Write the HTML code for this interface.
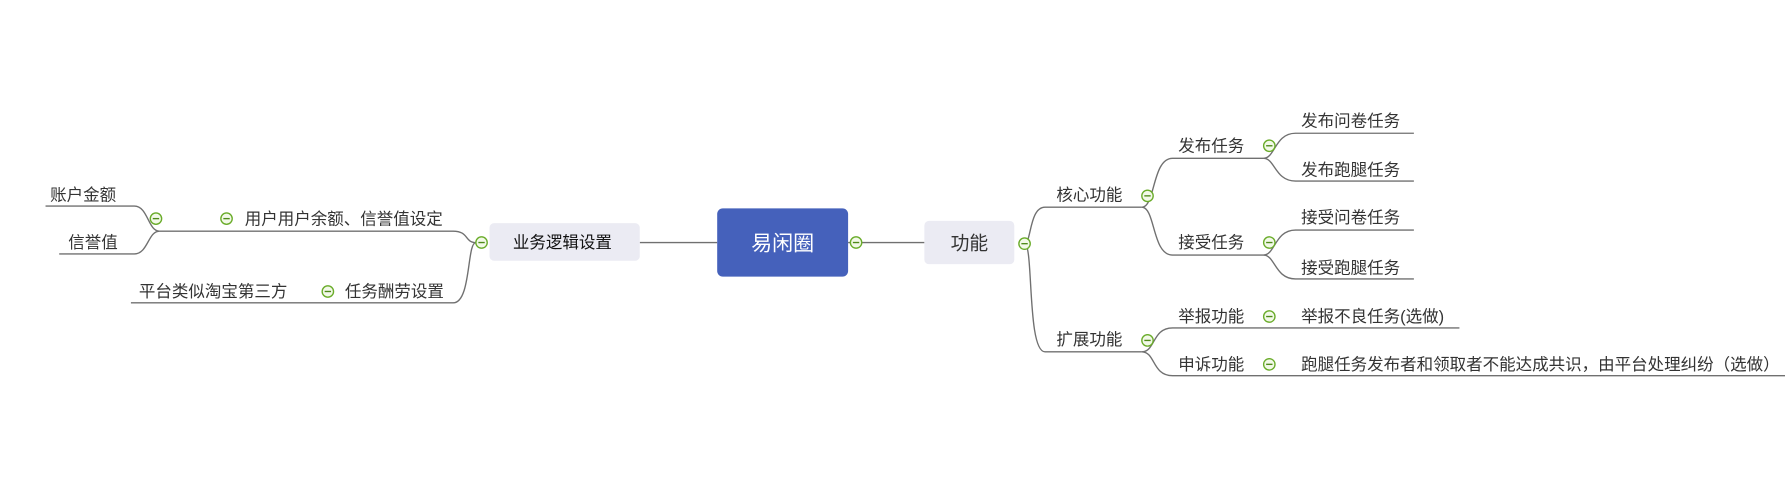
<!DOCTYPE html>
<html><head><meta charset="utf-8"><style>
html,body{margin:0;padding:0;background:#fff;width:1785px;height:501px;overflow:hidden}
text{font-family:"Liberation Sans","Noto Sans CJK SC",sans-serif;font-size:14.5px;fill:#333}
</style></head><body>
<svg width="1785" height="501" viewBox="0 0 1568 440" xmlns="http://www.w3.org/2000/svg">
<defs>
<g id="c"><circle r="5" fill="#f2f9e8" stroke="#6aac2a" stroke-width="1.2"/><line x1="-2.8" y1="0" x2="2.8" y2="0" stroke="#4f8a1a" stroke-width="1.2"/></g>
</defs>
<g fill="none" stroke="#707070" stroke-width="1.2">
<line x1="562" y1="213" x2="630" y2="213"/>
<line x1="745" y1="213" x2="812" y2="213"/>
<path d="M900 214 C906 214,904 182,918 182 L1003 182"/>
<path d="M900 214 C908 214,902 309,918 309 L1003 309"/>
<path d="M1003 182 C1015 182,1012 139,1030 139 L1110 139"/>
<path d="M1003 182 C1015 182,1012 224,1030 224 L1110 224"/>
<path d="M1110 139 C1120 139,1120 117,1138 117 L1242 117"/>
<path d="M1110 139 C1120 139,1120 159,1138 159 L1242 159"/>
<path d="M1110 224 C1120 224,1120 202,1138 202 L1242 202"/>
<path d="M1110 224 C1120 224,1120 245,1138 245 L1242 245"/>
<path d="M1003 309 C1015 309,1012 288,1030 288 L1282 288"/>
<path d="M1003 309 C1015 309,1012 330,1030 330 L1568 330"/>
<path d="M418 213 C408 213,412 203,398 203 L140 203"/>
<path d="M418 213 C410 213,414 266,398 266 L115 266"/>
<path d="M140 203 C130 203,130 181,118 181 L40 181"/>
<path d="M140 203 C130 203,130 223,118 223 L52 223"/>
</g>
<rect x="630" y="183" width="115" height="60" rx="5" fill="#4561bb"/>
<text x="687.5" y="220" text-anchor="middle" style="font-size:18.5px;fill:#fff">易闲圈</text>
<rect x="812" y="194" width="79" height="38" rx="4" fill="#ebebf3"/>
<text x="851.5" y="219" text-anchor="middle" style="font-size:16.5px">功能</text>
<rect x="430" y="196" width="132" height="33" rx="4" fill="#ebebf3"/>
<text x="494" y="218" text-anchor="middle" style="fill:#111">业务逻辑设置</text>
<text x="928" y="176">核心功能</text>
<text x="928" y="303">扩展功能</text>
<text x="1035" y="133">发布任务</text>
<text x="1035" y="218">接受任务</text>
<text x="1143" y="111">发布问卷任务</text>
<text x="1143" y="154">发布跑腿任务</text>
<text x="1143" y="196">接受问卷任务</text>
<text x="1143" y="240">接受跑腿任务</text>
<text x="1035" y="283">举报功能</text>
<text x="1143" y="283">举报不良任务(选做)</text>
<text x="1035" y="325">申诉功能</text>
<text x="1143" y="325">跑腿任务发布者和领取者不能达成共识，由平台处理纠纷（选做）</text>
<text x="215" y="197">用户用户余额、信誉值设定</text>
<text x="303" y="261">任务酬劳设置</text>
<text x="122" y="261">平台类似淘宝第三方</text>
<text x="44" y="176">账户金额</text>
<text x="60" y="218">信誉值</text>
<use href="#c" x="752" y="213"/>
<use href="#c" x="900" y="214"/>
<use href="#c" x="1008" y="172"/>
<use href="#c" x="1008" y="299"/>
<use href="#c" x="1115" y="128"/>
<use href="#c" x="1115" y="213"/>
<use href="#c" x="1115" y="278"/>
<use href="#c" x="1115" y="320"/>
<use href="#c" x="423" y="213"/>
<use href="#c" x="199" y="192"/>
<use href="#c" x="288" y="256"/>
<use href="#c" x="137" y="192"/>
</svg>
</body></html>
